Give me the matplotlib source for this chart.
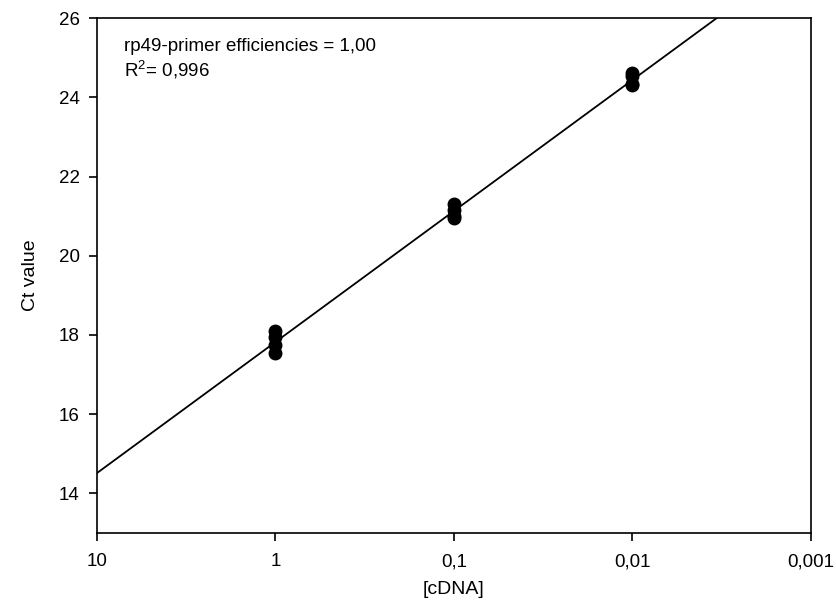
import matplotlib
matplotlib.use('Agg')
import matplotlib.pyplot as plt
import numpy as np

# dilution series and measured Ct values (4 replicates each)
cdna = [1, 1, 1, 1, 0.1, 0.1, 0.1, 0.1, 0.01, 0.01, 0.01, 0.01]
ct = [18.10, 17.95, 17.75, 17.55,
      21.30, 21.15, 21.00, 20.95,
      24.62, 24.55, 24.35, 24.30]

x_ticks = [10, 1, 0.1, 0.01, 0.001]
x_labels = ['10', '1', '0,1', '0,01', '0,001']
y_ticks = [14, 16, 18, 20, 22, 24, 26]

plt.rcParams['font.family'] = ['Liberation Sans', 'DejaVu Sans']

fig = plt.figure(figsize=(8.36, 6.06), dpi=100)
ax = fig.add_axes([0.116, 0.1205, 0.854, 0.8495])

# linear regression of Ct against log10 concentration
slope, intercept = np.polyfit(np.log10(cdna), ct, 1)
xl = np.logspace(1, -3, 200)
ax.plot(xl, slope * np.log10(xl) + intercept, color='black', lw=1.3)

ax.plot(cdna, ct, 'o', color='black', ms=9)

ax.set_xscale('log')
ax.set_xlim(10, 0.001)
ax.set_ylim(13, 26)
ax.set_xticks(x_ticks)
ax.set_xticklabels(x_labels)
ax.minorticks_off()
ax.set_yticks(y_ticks)

ax.tick_params(direction='out', length=5.5, width=1.2, labelsize=13.5)
ax.tick_params(axis='y', pad=7)
ax.tick_params(axis='x', pad=9)
for s in ax.spines.values():
    s.set_linewidth(1.2)

ax.set_xlabel('[cDNA]', fontsize=14, labelpad=8)
ax.set_ylabel('Ct value', fontsize=14, labelpad=14)

ax.text(0.038, 0.962, 'rp49-primer efficiencies = 1,00\nR$^{\\mathregular{2}}$= 0,996',
        transform=ax.transAxes, fontsize=13.5, va='top', ha='left',
        linespacing=1.2)

plt.savefig('out.png', dpi=100)
